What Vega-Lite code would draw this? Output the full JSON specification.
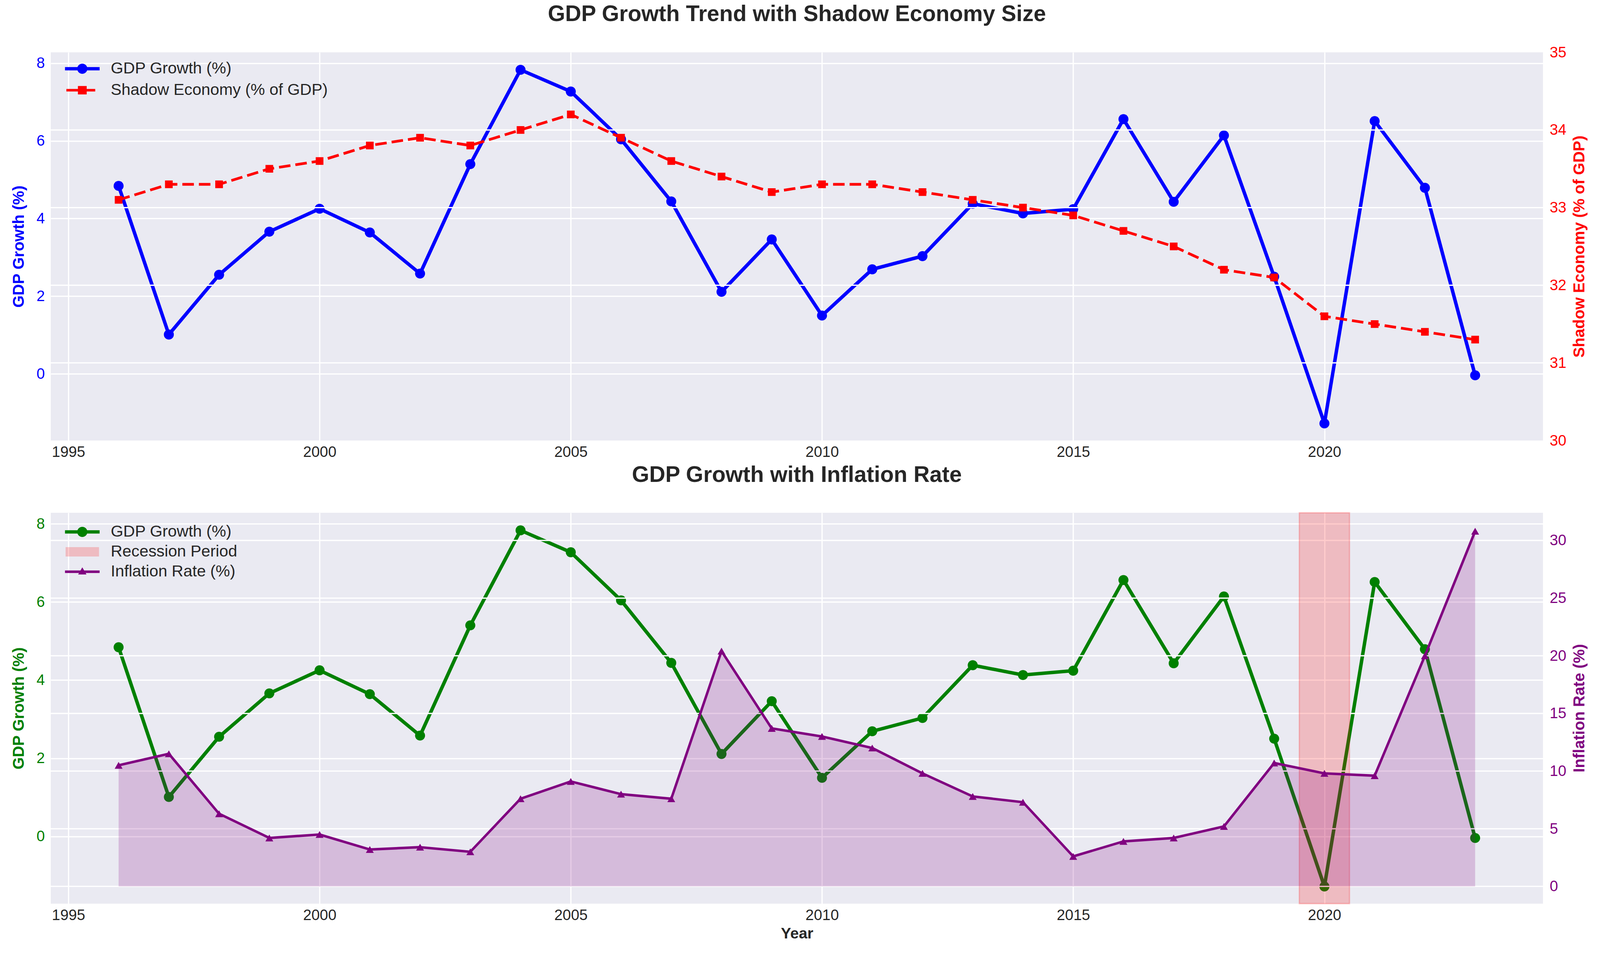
{
  "$schema": "https://vega.github.io/schema/vega-lite/v6.json",
  "background": "white",
  "padding": {"left": 28, "top": 8, "right": 28, "bottom": 20},
  "datasets": {
    "econ": [
      {"year": 1996, "gdp": 4.84, "shadow": 33.1, "inflation": 10.5},
      {"year": 1997, "gdp": 1.01, "shadow": 33.3, "inflation": 11.5},
      {"year": 1998, "gdp": 2.55, "shadow": 33.3, "inflation": 6.3},
      {"year": 1999, "gdp": 3.66, "shadow": 33.5, "inflation": 4.2},
      {"year": 2000, "gdp": 4.25, "shadow": 33.6, "inflation": 4.5},
      {"year": 2001, "gdp": 3.64, "shadow": 33.8, "inflation": 3.2},
      {"year": 2002, "gdp": 2.58, "shadow": 33.9, "inflation": 3.4},
      {"year": 2003, "gdp": 5.40, "shadow": 33.8, "inflation": 3.0},
      {"year": 2004, "gdp": 7.83, "shadow": 34.0, "inflation": 7.6},
      {"year": 2005, "gdp": 7.27, "shadow": 34.2, "inflation": 9.1},
      {"year": 2006, "gdp": 6.04, "shadow": 33.9, "inflation": 8.0},
      {"year": 2007, "gdp": 4.44, "shadow": 33.6, "inflation": 7.6},
      {"year": 2008, "gdp": 2.11, "shadow": 33.4, "inflation": 20.4},
      {"year": 2009, "gdp": 3.46, "shadow": 33.2, "inflation": 13.7},
      {"year": 2010, "gdp": 1.50, "shadow": 33.3, "inflation": 13.0},
      {"year": 2011, "gdp": 2.69, "shadow": 33.3, "inflation": 12.0},
      {"year": 2012, "gdp": 3.03, "shadow": 33.2, "inflation": 9.8},
      {"year": 2013, "gdp": 4.38, "shadow": 33.1, "inflation": 7.8},
      {"year": 2014, "gdp": 4.13, "shadow": 33.0, "inflation": 7.3},
      {"year": 2015, "gdp": 4.24, "shadow": 32.9, "inflation": 2.6},
      {"year": 2016, "gdp": 6.56, "shadow": 32.7, "inflation": 3.9},
      {"year": 2017, "gdp": 4.43, "shadow": 32.5, "inflation": 4.2},
      {"year": 2018, "gdp": 6.14, "shadow": 32.2, "inflation": 5.2},
      {"year": 2019, "gdp": 2.50, "shadow": 32.1, "inflation": 10.7},
      {"year": 2020, "gdp": -1.28, "shadow": 31.6, "inflation": 9.8},
      {"year": 2021, "gdp": 6.51, "shadow": 31.5, "inflation": 9.6},
      {"year": 2022, "gdp": 4.79, "shadow": 31.4, "inflation": 20.0},
      {"year": 2023, "gdp": -0.04, "shadow": 31.3, "inflation": 30.8}
    ],
    "recession": [
      {"start": 2019.5, "end": 2020.5}
    ]
  },
  "vconcat": [
    {
      "title": {"text": "GDP Growth Trend with Shadow Economy Size", "offset": 49},
      "width": 3820,
      "height": 994,
      "layer": [
        {
          "data": {"name": "econ"},
          "layer": [
            {
              "mark": {"type": "line", "strokeWidth": 8.9, "strokeJoin": "round"},
              "encoding": {
                "x": {"field": "year", "type": "quantitative", "scale": {"domain": [1994.65, 2024.35], "nice": false, "zero": false}, "axis": {"values": [1995, 2000, 2005, 2010, 2015, 2020], "format": "d", "title": null}},
                "y": {"field": "gdp", "type": "quantitative", "scale": {"domain": [-1.72, 8.28], "nice": false, "zero": false}, "axis": {"values": [0, 2, 4, 6, 8], "format": "d", "title": "GDP Growth (%)", "labelColor": "#0000ff", "titleColor": "#0000ff"}},
                "color": {
                  "datum": "GDP Growth (%)",
                  "scale": {"domain": ["GDP Growth (%)", "Shadow Economy (% of GDP)"], "range": ["#0000ff", "#ff0000"]},
                  "legend": {
                    "orient": "none", "legendX": 50.7, "legendY": 12, "title": null,
                    "symbolSize": 3486, "labelFontSize": 41.3, "labelColor": "#262626", "labelOffset": 42.8, "labelLimit": 2000, "rowPadding": 4,
                    "encode": {"symbols": {"update": {
                      "shape": {"signal": "datum.value === 'GDP Growth (%)' ? 'M-1.5,-0.14H1.5V0.14H-1.5Z M-0.44,0A0.44,0.44 0 1,1 0.44,0A0.44,0.44 0 1,1 -0.44,0Z' : 'M-1.38,-0.11H-0.2V0.11H-1.38Z M0.3,-0.11H1.12V0.11H0.3Z M-0.38,-0.36H0.38V0.36H-0.38Z'"},
                      "fill": {"signal": "datum.value === 'GDP Growth (%)' ? '#0000ff' : '#ff0000'"},
                      "fillOpacity": {"value": 1}, "opacity": {"value": 1},
                      "stroke": {"value": "transparent"}, "strokeWidth": {"value": 0}
                    }}}
                  }
                }
              }
            },
            {
              "mark": {"type": "point", "filled": true, "shape": "circle", "size": 654, "opacity": 1},
              "encoding": {
                "x": {"field": "year", "type": "quantitative"},
                "y": {"field": "gdp", "type": "quantitative"},
                "color": {"datum": "GDP Growth (%)"}
              }
            }
          ]
        },
        {
          "layer": [
            {
              "data": {"values": [{}]},
              "mark": {"type": "rule", "color": "#ffffff", "strokeWidth": 3.25},
              "encoding": {"y": {"datum": 31, "type": "quantitative", "scale": {"domain": [30, 35], "nice": false, "zero": false}, "axis": {"orient": "right", "grid": false, "values": [30, 31, 32, 33, 34, 35], "format": "d", "title": "Shadow Economy (% of GDP)", "labelColor": "#ff0000", "titleColor": "#ff0000", "titleAngle": 270, "titleBaseline": "middle", "titleAlign": "center", "titleX": 93.5, "titleY": 497}}}
            },
            {"data": {"values": [{}]}, "mark": {"type": "rule", "color": "#ffffff", "strokeWidth": 3.25}, "encoding": {"y": {"datum": 32, "type": "quantitative"}}},
            {"data": {"values": [{}]}, "mark": {"type": "rule", "color": "#ffffff", "strokeWidth": 3.25}, "encoding": {"y": {"datum": 33, "type": "quantitative"}}},
            {"data": {"values": [{}]}, "mark": {"type": "rule", "color": "#ffffff", "strokeWidth": 3.25}, "encoding": {"y": {"datum": 34, "type": "quantitative"}}},
            {
              "data": {"name": "econ"},
              "mark": {"type": "line", "strokeWidth": 6.9, "strokeDash": [29.5, 12.8]},
              "encoding": {
                "x": {"field": "year", "type": "quantitative"},
                "y": {"field": "shadow", "type": "quantitative"},
                "color": {"datum": "Shadow Economy (% of GDP)"}
              }
            },
            {
              "data": {"name": "econ"},
              "mark": {"type": "point", "filled": true, "shape": "square", "size": 387, "opacity": 1},
              "encoding": {
                "x": {"field": "year", "type": "quantitative"},
                "y": {"field": "shadow", "type": "quantitative"},
                "color": {"datum": "Shadow Economy (% of GDP)"}
              }
            }
          ]
        }
      ],
      "resolve": {"scale": {"y": "independent"}}
    },
    {
      "title": {"text": "GDP Growth with Inflation Rate", "offset": 65.5},
      "width": 3820,
      "height": 1001,
      "layer": [
        {
          "data": {"name": "econ"},
          "layer": [
            {
              "mark": {"type": "line", "strokeWidth": 8.9, "strokeJoin": "round"},
              "encoding": {
                "x": {"field": "year", "type": "quantitative", "scale": {"domain": [1994.65, 2024.35], "nice": false, "zero": false}, "axis": {"values": [1995, 2000, 2005, 2010, 2015, 2020], "format": "d", "title": "Year", "titleFontSize": 39.4}},
                "y": {"field": "gdp", "type": "quantitative", "scale": {"domain": [-1.72, 8.28], "nice": false, "zero": false}, "axis": {"values": [0, 2, 4, 6, 8], "format": "d", "title": "GDP Growth (%)", "labelColor": "#008000", "titleColor": "#008000"}},
                "color": {
                  "datum": "GDP Growth (%)",
                  "scale": {"domain": ["GDP Growth (%)", "Recession Period", "Inflation Rate (%)"], "range": ["#008000", "rgba(255,0,0,0.2)", "#800080"]},
                  "legend": {
                    "orient": "none", "legendX": 50.7, "legendY": 19, "title": null,
                    "symbolSize": 3486, "labelFontSize": 41.3, "labelColor": "#262626", "labelOffset": 42.8, "labelLimit": 2000, "rowPadding": -6,
                    "encode": {"symbols": {"update": {
                      "shape": {"signal": "datum.value === 'GDP Growth (%)' ? 'M-1.5,-0.14H1.5V0.14H-1.5Z M-0.44,0A0.44,0.44 0 1,1 0.44,0A0.44,0.44 0 1,1 -0.44,0Z' : datum.value === 'Recession Period' ? 'M-1.45,-0.41H1.45V0.41H-1.45Z' : 'M-1.5,-0.11H1.5V0.11H-1.5Z M-0.36,0.24L0,-0.38L0.36,0.24Z'"},
                      "fill": {"signal": "datum.value === 'GDP Growth (%)' ? '#008000' : datum.value === 'Recession Period' ? 'rgba(255,0,0,0.22)' : '#800080'"},
                      "fillOpacity": {"value": 1}, "opacity": {"value": 1},
                      "stroke": {"value": "transparent"}, "strokeWidth": {"value": 0}
                    }}}
                  }
                }
              }
            },
            {
              "mark": {"type": "point", "filled": true, "shape": "circle", "size": 654, "opacity": 1},
              "encoding": {
                "x": {"field": "year", "type": "quantitative"},
                "y": {"field": "gdp", "type": "quantitative"},
                "color": {"datum": "GDP Growth (%)"}
              }
            }
          ]
        },
        {
          "layer": [
            {
              "data": {"values": [{}]},
              "mark": {"type": "rule", "color": "#ffffff", "strokeWidth": 3.25},
              "encoding": {"y": {"datum": 0, "type": "quantitative", "scale": {"domain": [-1.5, 32.4], "nice": false, "zero": false}, "axis": {"orient": "right", "grid": false, "values": [0, 5, 10, 15, 20, 25, 30], "format": "d", "title": "Inflation Rate (%)", "labelColor": "#800080", "titleColor": "#800080", "titleAngle": 270, "titleBaseline": "middle", "titleAlign": "center", "titleX": 93.5, "titleY": 500}}}
            },
            {"data": {"values": [{}]}, "mark": {"type": "rule", "color": "#ffffff", "strokeWidth": 3.25}, "encoding": {"y": {"datum": 5, "type": "quantitative"}}},
            {"data": {"values": [{}]}, "mark": {"type": "rule", "color": "#ffffff", "strokeWidth": 3.25}, "encoding": {"y": {"datum": 10, "type": "quantitative"}}},
            {"data": {"values": [{}]}, "mark": {"type": "rule", "color": "#ffffff", "strokeWidth": 3.25}, "encoding": {"y": {"datum": 15, "type": "quantitative"}}},
            {"data": {"values": [{}]}, "mark": {"type": "rule", "color": "#ffffff", "strokeWidth": 3.25}, "encoding": {"y": {"datum": 20, "type": "quantitative"}}},
            {"data": {"values": [{}]}, "mark": {"type": "rule", "color": "#ffffff", "strokeWidth": 3.25}, "encoding": {"y": {"datum": 25, "type": "quantitative"}}},
            {"data": {"values": [{}]}, "mark": {"type": "rule", "color": "#ffffff", "strokeWidth": 3.25}, "encoding": {"y": {"datum": 30, "type": "quantitative"}}},
            {
              "data": {"name": "recession"},
              "mark": {"type": "rect", "stroke": "#ff0000", "strokeOpacity": 0.2, "strokeWidth": 3.3},
              "encoding": {
                "x": {"field": "start", "type": "quantitative"},
                "x2": {"field": "end"},
                "color": {"datum": "Recession Period"}
              }
            },
            {
              "data": {"name": "econ"},
              "mark": {"type": "area", "opacity": 0.2},
              "encoding": {
                "x": {"field": "year", "type": "quantitative"},
                "y": {"field": "inflation", "type": "quantitative"},
                "y2": {"datum": 0},
                "color": {"datum": "Inflation Rate (%)"}
              }
            },
            {
              "data": {"name": "econ"},
              "mark": {"type": "line", "strokeWidth": 6.4, "strokeJoin": "round"},
              "encoding": {
                "x": {"field": "year", "type": "quantitative"},
                "y": {"field": "inflation", "type": "quantitative"},
                "color": {"datum": "Inflation Rate (%)"}
              }
            },
            {
              "data": {"name": "econ"},
              "mark": {"type": "point", "filled": true, "shape": "triangle-up", "size": 407, "opacity": 1},
              "encoding": {
                "x": {"field": "year", "type": "quantitative"},
                "y": {"field": "inflation", "type": "quantitative"},
                "color": {"datum": "Inflation Rate (%)"}
              }
            }
          ]
        }
      ],
      "resolve": {"scale": {"y": "independent"}}
    }
  ],
  "spacing": 185,
  "bounds": "flush",
  "resolve": {"scale": {"color": "independent"}, "legend": {"color": "independent"}},
  "config": {
    "font": "Liberation Sans",
    "view": {"fill": "#EAEAF2", "stroke": null},
    "axis": {
      "domain": false, "ticks": false, "grid": true, "gridColor": "#ffffff", "gridWidth": 3.25, "gridOpacity": 1,
      "labelFontSize": 38.4, "labelColor": "#262626", "labelFont": "Liberation Sans",
      "titleFontSize": 40.3, "titleFontWeight": "bold", "titleColor": "#262626", "titleFont": "Liberation Sans",
      "labelFlush": false, "labelOverlap": false
    },
    "axisLeft": {"labelPadding": 15.7, "titlePadding": 24.6},
    "axisRight": {"labelPadding": 16.7, "titlePadding": 15},
    "axisBottom": {"labelPadding": 11.8, "titlePadding": 7.9},
    "title": {"fontSize": 57, "fontWeight": "bold", "color": "#262626", "anchor": "middle", "baseline": "alphabetic", "offset": 68, "font": "Liberation Sans"},
    "legend": {"labelFont": "Liberation Sans"}
  }
}
